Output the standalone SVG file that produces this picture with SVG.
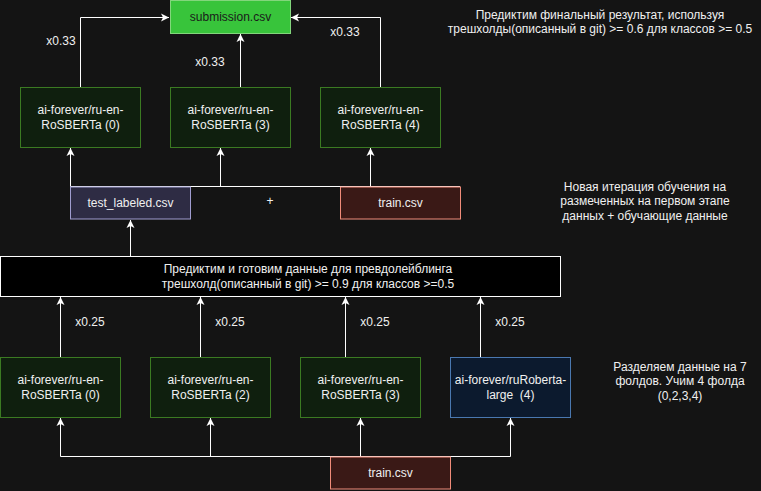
<svg xmlns="http://www.w3.org/2000/svg" width="761" height="491" viewBox="0 0 761 491">
<defs>
<style>
text{font-family:"Liberation Sans",Arial,sans-serif;font-size:12px;fill:#f0f0f0;text-anchor:middle}
.g{fill:#0f1f0e;stroke:#3b7a22;stroke-width:1}
.b{fill:#0c1a2e;stroke:#4a78b0;stroke-width:1}
.t{fill:#2e2c44;stroke:#a09dd0;stroke-width:1}
.r{fill:#3a1916;stroke:#f08c7a;stroke-width:1}
.c{fill:none;stroke:#ffffff;stroke-width:1}
</style>
<marker id="a" viewBox="-9 -5 10 10" refX="0" refY="0" markerWidth="10" markerHeight="10" markerUnits="userSpaceOnUse" orient="auto">
<path d="M0,0 L-8,-4 L-6,0 L-8,4 Z" fill="#ffffff"/>
</marker>
</defs>
<rect x="0" y="0" width="761" height="491" fill="#141414"/>
<g id="connectors">
<path class="c" d="M80.5,87 V17.5 H169" marker-end="url(#a)"/>
<path class="c" d="M240.5,87 V34" marker-end="url(#a)"/>
<path class="c" d="M380.5,87 V17.5 H291" marker-end="url(#a)"/>
<path class="c" d="M70.5,186.5 H460"/>
<path class="c" d="M70.5,186.5 V148" marker-end="url(#a)"/>
<path class="c" d="M220.5,186.5 V148" marker-end="url(#a)"/>
<path class="c" d="M370.5,186.5 V148" marker-end="url(#a)"/>
<path class="c" d="M130.5,256 V220" marker-end="url(#a)"/>
<path class="c" d="M60.5,357 V297" marker-end="url(#a)"/>
<path class="c" d="M200.5,357 V297" marker-end="url(#a)"/>
<path class="c" d="M345.5,357 V297" marker-end="url(#a)"/>
<path class="c" d="M480.5,357 V297" marker-end="url(#a)"/>
<path class="c" d="M60.5,456.5 H510.5"/>
<path class="c" d="M60.5,456.5 V418" marker-end="url(#a)"/>
<path class="c" d="M210.5,456.5 V418" marker-end="url(#a)"/>
<path class="c" d="M360.5,456.5 V418" marker-end="url(#a)"/>
<path class="c" d="M510.5,456.5 V418" marker-end="url(#a)"/>
<text x="61" y="45">x0.33</text>
<text x="210" y="66">x0.33</text>
<text x="345" y="36">x0.33</text>
<text x="90" y="326">x0.25</text>
<text x="230" y="326">x0.25</text>
<text x="375" y="326">x0.25</text>
<text x="510" y="326">x0.25</text>
</g>
<g id="submission">
<rect x="170.5" y="0.5" width="120" height="33" fill="#38c43b" stroke="#82d67c"/>
<text x="230.5" y="21" style="fill:#1a1a1a">submission.csv</text>
</g>
<g id="top0">
<rect class="g" x="20.5" y="87.5" width="120" height="60"/>
<text x="80.5" y="114">ai-forever/ru-en-</text>
<text x="80.5" y="129">RoSBERTa (0)</text>
</g>
<g id="top3">
<rect class="g" x="170.5" y="87.5" width="120" height="60"/>
<text x="230.5" y="114">ai-forever/ru-en-</text>
<text x="230.5" y="129">RoSBERTa (3)</text>
</g>
<g id="top4">
<rect class="g" x="320.5" y="87.5" width="120" height="60"/>
<text x="380.5" y="114">ai-forever/ru-en-</text>
<text x="380.5" y="129">RoSBERTa (4)</text>
</g>
<g id="test_labeled">
<rect class="t" x="70.5" y="187" width="120" height="32"/>
<text x="130.5" y="207">test_labeled.csv</text>
</g>
<g id="plus">
<text x="270" y="205">+</text>
</g>
<g id="train_top">
<rect class="r" x="340.5" y="187" width="120" height="32"/>
<text x="400.5" y="207">train.csv</text>
</g>
<g id="pseudo">
<rect x="0.5" y="256.5" width="560" height="40" fill="#000000" stroke="#ffffff"/>
<text x="308" y="273">Предиктим и готовим данные для превдолейблинга</text>
<text x="308" y="288">трешхолд(описанный в git) &gt;= 0.9 для классов &gt;=0.5</text>
</g>
<g id="bot0">
<rect class="g" x="0.5" y="357.5" width="120" height="60"/>
<text x="60.5" y="384">ai-forever/ru-en-</text>
<text x="60.5" y="399">RoSBERTa (0)</text>
</g>
<g id="bot2">
<rect class="g" x="150.5" y="357.5" width="120" height="60"/>
<text x="210.5" y="384">ai-forever/ru-en-</text>
<text x="210.5" y="399">RoSBERTa (2)</text>
</g>
<g id="bot3">
<rect class="g" x="300.5" y="357.5" width="120" height="60"/>
<text x="360.5" y="384">ai-forever/ru-en-</text>
<text x="360.5" y="399">RoSBERTa (3)</text>
</g>
<g id="bot4">
<rect class="b" x="450.5" y="357.5" width="120" height="60"/>
<text x="510.5" y="384">ai-forever/ruRoberta-</text>
<text x="510.5" y="399" xml:space="preserve">large  (4)</text>
</g>
<g id="train_bottom">
<rect class="r" x="330.5" y="457" width="120" height="32"/>
<text x="390.5" y="477">train.csv</text>
</g>
<g id="note_final">
<text x="600" y="19">Предиктим финальный результат, используя</text>
<text x="600" y="33">трешхолды(описанный в git) &gt;= 0.6 для классов &gt;= 0.5</text>
</g>
<g id="note_iter">
<text x="645" y="191">Новая итерация обучения на</text>
<text x="645" y="205">размеченных на первом этапе</text>
<text x="645" y="220">данных + обучающие данные</text>
</g>
<g id="note_folds">
<text x="680" y="371">Разделяем данные на 7</text>
<text x="680" y="385">фолдов. Учим 4 фолда</text>
<text x="680" y="400">(0,2,3,4)</text>
</g>
</svg>
